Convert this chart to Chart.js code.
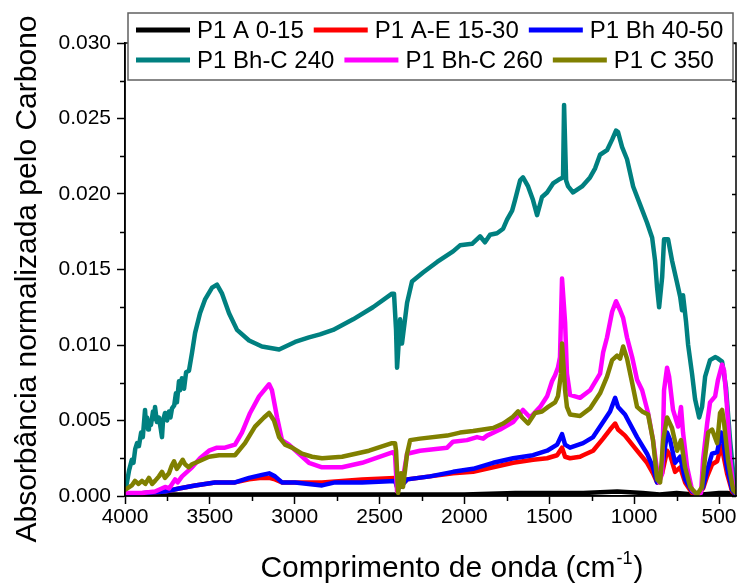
<!DOCTYPE html>
<html>
<head>
<meta charset="utf-8">
<script src="https://cdn.jsdelivr.net/npm/chart.js@4/dist/chart.umd.min.js"></script>
<style>
  html, body { margin: 0; padding: 0; background: #fff; }
  #chartBox { width: 739px; height: 584px; }
</style>
</head>
<body>
<div id="chartBox"><canvas id="spectra" width="739" height="584"></canvas></div>
<script>
// Series names and colours (same order as the legend)
const seriesNames = ['P1 A 0-15', 'P1 A-E 15-30', 'P1 Bh 40-50', 'P1 Bh-C 240', 'P1 Bh-C 260', 'P1 C 350'];
const seriesColors = ['#000000', '#ff0000', '#0000ff', '#008080', '#ff00ff', '#808000'];

// Axis ticks
const xTicks = [4000, 3500, 3000, 2500, 2000, 1500, 1000, 500];
const xMinorTicks = [3750, 3250, 2750, 2250, 1750, 1250, 750];
const yTicks = [0, 0.005, 0.010, 0.015, 0.020, 0.025, 0.030];
const yMinorTicks = [0.0025, 0.0075, 0.0125, 0.0175, 0.0225, 0.0275];

// Spectra: [wavenumber cm-1, absorbance]
const p1A = [
  [4000, 0.0001], [3500, 0.0001], [3000, 0.0001], [2500, 0.0001], [2000, 0.0001],
  [1700, 0.0002], [1420, 0.0002], [1300, 0.0002], [1100, 0.0003], [950, 0.0002],
  [850, 0.0001], [750, 0.0002], [650, 0.0001], [600, 0.0001], [500, 0.0002],
  [450, 0.0002], [400, 0.0001]
];

const p1AE = [
  [4000, 0.0001], [3764, 0.0003], [3682, 0.0005], [3587, 0.0007], [3470, 0.0009],
  [3352, 0.0009], [3269, 0.0011], [3193, 0.0012], [3151, 0.0012], [3116, 0.0011],
  [3075, 0.0009], [2998, 0.0009], [2839, 0.0009], [2603, 0.0011], [2409, 0.0012],
  [2397, 0.0006], [2379, 0.0006], [2338, 0.0011], [2203, 0.0013], [2067, 0.0015],
  [1949, 0.0016], [1831, 0.0019], [1713, 0.0022], [1596, 0.0024], [1513, 0.0025],
  [1454, 0.0027], [1425, 0.0032], [1407, 0.0026], [1378, 0.0025], [1319, 0.0026],
  [1301, 0.0027], [1242, 0.0030], [1183, 0.0038], [1142, 0.0044], [1112, 0.0048],
  [1095, 0.0044], [1054, 0.0040], [983, 0.0030], [924, 0.0022], [889, 0.0015],
  [865, 0.0009], [835, 0.0015], [806, 0.0030], [788, 0.0027], [759, 0.0016],
  [729, 0.0019], [700, 0.0009], [659, 0.0002], [623, 0.0001], [594, 0.0005],
  [570, 0.0013], [541, 0.0021], [511, 0.0023], [488, 0.0033], [476, 0.0028],
  [453, 0.0015], [423, 0.0003], [400, 0.0001]
];

const p1Bh = [
  [4000, 0.0001], [3764, 0.0003], [3682, 0.0005], [3587, 0.0007], [3470, 0.0009],
  [3352, 0.0009], [3269, 0.0012], [3193, 0.0014], [3151, 0.0015], [3116, 0.0013],
  [3075, 0.0009], [2998, 0.0009], [2839, 0.0007], [2763, 0.0009], [2603, 0.0009],
  [2409, 0.0010], [2397, 0.0006], [2379, 0.0006], [2338, 0.0011], [2203, 0.0013],
  [2067, 0.0016], [1949, 0.0018], [1831, 0.0022], [1713, 0.0025], [1596, 0.0027],
  [1513, 0.0030], [1454, 0.0034], [1425, 0.0041], [1407, 0.0034], [1378, 0.0032],
  [1301, 0.0035], [1242, 0.0039], [1183, 0.0049], [1142, 0.0056], [1112, 0.0065],
  [1095, 0.0059], [1054, 0.0054], [983, 0.0039], [924, 0.0028], [889, 0.0019],
  [865, 0.0009], [835, 0.0019], [806, 0.0042], [788, 0.0037], [759, 0.0022],
  [729, 0.0026], [700, 0.0011], [659, 0.0003], [623, 0.0001], [594, 0.0006],
  [570, 0.0017], [541, 0.0028], [511, 0.0029], [488, 0.0042], [476, 0.0037],
  [453, 0.0019], [423, 0.0004], [400, 0.0001]
];

const p1BhC240 = [
  [4000, 0.0003], [3990, 0.0008], [3976, 0.0017], [3960, 0.0024], [3950, 0.0022],
  [3940, 0.0031], [3929, 0.0035], [3918, 0.0033], [3905, 0.0042], [3895, 0.0039],
  [3882, 0.0057], [3876, 0.0047], [3870, 0.0052], [3864, 0.0044], [3859, 0.0050],
  [3847, 0.0047], [3835, 0.0056], [3829, 0.0051], [3823, 0.0059], [3812, 0.0049],
  [3800, 0.0052], [3790, 0.0045], [3782, 0.0039], [3776, 0.0050], [3764, 0.0055],
  [3752, 0.0050], [3741, 0.0056], [3732, 0.0052], [3723, 0.0058], [3710, 0.0060],
  [3700, 0.0068], [3694, 0.0062], [3682, 0.0076], [3676, 0.0070], [3665, 0.0078],
  [3652, 0.0071], [3640, 0.0082], [3623, 0.0083], [3605, 0.0095], [3587, 0.0108],
  [3558, 0.0121], [3529, 0.0130], [3487, 0.0138], [3458, 0.0140], [3428, 0.0134],
  [3387, 0.0121], [3340, 0.0110], [3269, 0.0103], [3193, 0.0099], [3092, 0.0097],
  [2998, 0.0102], [2916, 0.0105], [2851, 0.0107], [2774, 0.0110], [2656, 0.0117],
  [2539, 0.0125], [2427, 0.0134], [2415, 0.0134], [2403, 0.0110], [2397, 0.0085],
  [2391, 0.0095], [2379, 0.0117], [2368, 0.0101], [2338, 0.0128], [2309, 0.0142],
  [2244, 0.0148], [2161, 0.0155], [2067, 0.0162], [2026, 0.0166], [1955, 0.0167],
  [1908, 0.0172], [1879, 0.0168], [1849, 0.0173], [1808, 0.0174], [1772, 0.0177],
  [1749, 0.0183], [1719, 0.0189], [1702, 0.0196], [1672, 0.0209], [1655, 0.0211],
  [1625, 0.0205], [1596, 0.0196], [1572, 0.0186], [1543, 0.0198], [1513, 0.0201],
  [1478, 0.0207], [1437, 0.0210], [1419, 0.0211], [1413, 0.0259], [1401, 0.0209],
  [1389, 0.0205], [1360, 0.0201], [1307, 0.0205], [1260, 0.0211], [1230, 0.0217],
  [1201, 0.0226], [1160, 0.0229], [1130, 0.0236], [1107, 0.0242], [1095, 0.0241],
  [1071, 0.0231], [1042, 0.0223], [1006, 0.0205], [965, 0.0193], [924, 0.0181],
  [894, 0.0171], [877, 0.0156], [865, 0.0138], [853, 0.0125], [835, 0.0145],
  [824, 0.0170], [800, 0.0170], [777, 0.0156], [747, 0.0141], [729, 0.0132],
  [718, 0.0123], [712, 0.0133], [694, 0.0115], [682, 0.0100], [659, 0.0081],
  [641, 0.0064], [617, 0.0052], [600, 0.0059], [582, 0.0079], [553, 0.0090],
  [523, 0.0092], [506, 0.0091], [482, 0.0089], [459, 0.0072], [435, 0.0037],
  [412, 0.0010], [400, 0.0003]
];

const p1BhC260 = [
  [4000, 0.0002], [3900, 0.0002], [3823, 0.0003], [3764, 0.0006], [3740, 0.0005],
  [3705, 0.0011], [3690, 0.0009], [3664, 0.0013], [3605, 0.0019], [3558, 0.0025],
  [3505, 0.0030], [3458, 0.0032], [3411, 0.0032], [3352, 0.0034], [3311, 0.0042],
  [3263, 0.0055], [3210, 0.0066], [3151, 0.0074], [3134, 0.0070], [3104, 0.0052],
  [3075, 0.0037], [3034, 0.0034], [2975, 0.0028], [2916, 0.0022], [2839, 0.0019],
  [2721, 0.0019], [2603, 0.0022], [2497, 0.0026], [2421, 0.0029], [2409, 0.0027],
  [2397, 0.0003], [2385, 0.0012], [2368, 0.0008], [2338, 0.0028], [2262, 0.0030],
  [2102, 0.0032], [2067, 0.0036], [1985, 0.0037], [1926, 0.0039], [1890, 0.0038],
  [1867, 0.0040], [1790, 0.0044], [1713, 0.0049], [1655, 0.0057], [1613, 0.0052],
  [1554, 0.0059], [1513, 0.0066], [1484, 0.0076], [1466, 0.0080], [1449, 0.0085],
  [1437, 0.0092], [1425, 0.0144], [1407, 0.0115], [1396, 0.0081], [1378, 0.0067],
  [1319, 0.0065], [1260, 0.0070], [1201, 0.0081], [1183, 0.0095], [1160, 0.0105],
  [1130, 0.0122], [1107, 0.0129], [1083, 0.0123], [1065, 0.0118], [1042, 0.0105],
  [1012, 0.0092], [983, 0.0077], [953, 0.0070], [918, 0.0055], [889, 0.0037],
  [865, 0.0017], [853, 0.0009], [835, 0.0015], [824, 0.0070], [806, 0.0085],
  [794, 0.0079], [771, 0.0057], [741, 0.0046], [724, 0.0059], [712, 0.0042],
  [688, 0.0019], [659, 0.0004], [629, 0.0001], [606, 0.0002], [594, 0.0024],
  [570, 0.0048], [553, 0.0062], [523, 0.0066], [506, 0.0077], [482, 0.0087],
  [470, 0.0083], [453, 0.0059], [435, 0.0026], [417, 0.0006], [400, 0.0002]
];

const p1C350 = [
  [4000, 0.0004], [3960, 0.0007], [3941, 0.0010], [3920, 0.0008], [3900, 0.0010],
  [3880, 0.0008], [3859, 0.0012], [3840, 0.0008], [3823, 0.0010], [3800, 0.0013],
  [3782, 0.0016], [3765, 0.0012], [3741, 0.0015], [3725, 0.0020], [3711, 0.0023],
  [3695, 0.0018], [3682, 0.0020], [3660, 0.0024], [3646, 0.0021], [3625, 0.0019],
  [3605, 0.0021], [3564, 0.0023], [3505, 0.0026], [3446, 0.0027], [3352, 0.0027],
  [3293, 0.0035], [3234, 0.0046], [3181, 0.0052], [3151, 0.0055], [3122, 0.0050],
  [3092, 0.0039], [3057, 0.0034], [3016, 0.0032], [2957, 0.0028], [2898, 0.0026],
  [2839, 0.0025], [2721, 0.0026], [2562, 0.0030], [2427, 0.0035], [2409, 0.0035],
  [2403, 0.0030], [2391, 0.0002], [2374, 0.0015], [2362, 0.0006], [2338, 0.0028],
  [2320, 0.0037], [2262, 0.0038], [2102, 0.0040], [2026, 0.0042], [1949, 0.0043],
  [1890, 0.0044], [1831, 0.0045], [1772, 0.0048], [1719, 0.0052], [1684, 0.0056],
  [1660, 0.0052], [1625, 0.0048], [1584, 0.0055], [1543, 0.0056], [1507, 0.0059],
  [1466, 0.0062], [1449, 0.0066], [1431, 0.0081], [1425, 0.0101], [1407, 0.0070],
  [1396, 0.0059], [1378, 0.0054], [1319, 0.0053], [1260, 0.0058], [1201, 0.0068],
  [1160, 0.0079], [1130, 0.0090], [1101, 0.0093], [1083, 0.0091], [1065, 0.0099],
  [1042, 0.0091], [1012, 0.0075], [983, 0.0059], [953, 0.0056], [918, 0.0054],
  [889, 0.0037], [865, 0.0011], [847, 0.0009], [829, 0.0037], [806, 0.0052],
  [777, 0.0045], [747, 0.0030], [724, 0.0037], [700, 0.0019], [670, 0.0006],
  [629, 0.0001], [600, 0.0006], [582, 0.0026], [564, 0.0042], [541, 0.0044],
  [511, 0.0035], [494, 0.0055], [482, 0.0057], [470, 0.0048], [447, 0.0024],
  [417, 0.0004], [400, 0.0002]
];

const seriesData = [p1A, p1AE, p1Bh, p1BhC240, p1BhC260, p1C350];

const FONT = "'Liberation Sans', Arial, sans-serif";

// Frame, minor ticks, axis titles and the boxed legend
const decorations = {
  id: 'decorations',
  afterDraw(chart) {
    const ctx = chart.ctx;
    const area = chart.chartArea;
    const xs = chart.scales.x;
    const ys = chart.scales.y;

    ctx.save();
    ctx.strokeStyle = '#000';
    ctx.lineWidth = 1.5;

    // minor ticks (outside on bottom / left)
    ctx.beginPath();
    xMinorTicks.forEach(v => {
      const px = Math.round(xs.getPixelForValue(v)) + 0.5;
      ctx.moveTo(px, area.bottom);
      ctx.lineTo(px, area.bottom + 5);
    });
    yMinorTicks.forEach(v => {
      const py = Math.round(ys.getPixelForValue(v)) + 0.5;
      ctx.moveTo(area.left, py);
      ctx.lineTo(area.left - 5, py);
    });
    // small inward ticks on the right axis
    yTicks.concat(yMinorTicks).forEach(v => {
      const py = Math.round(ys.getPixelForValue(v)) + 0.5;
      ctx.moveTo(area.right, py);
      ctx.lineTo(area.right - 4, py);
    });
    ctx.stroke();

    // frame
    ctx.strokeRect(area.left, area.top, area.right - area.left, area.bottom - area.top);

    // y title
    ctx.fillStyle = '#000';
    ctx.font = '30px ' + FONT;
    ctx.save();
    ctx.translate(36, 279);
    ctx.rotate(-Math.PI / 2);
    ctx.textAlign = 'center';
    ctx.textBaseline = 'alphabetic';
    ctx.fillText('Absorbância normalizada pelo Carbono', 0, 0);
    ctx.restore();

    // x title with superscript
    const mainPart = 'Comprimento de onda (cm';
    const supPart = '-1';
    const endPart = ')';
    ctx.textAlign = 'left';
    ctx.textBaseline = 'alphabetic';
    ctx.font = '30px ' + FONT;
    const wMain = ctx.measureText(mainPart).width;
    const wEnd = ctx.measureText(endPart).width;
    ctx.font = '18px ' + FONT;
    const wSup = ctx.measureText(supPart).width;
    let tx = 451 - (wMain + wSup + wEnd) / 2;
    const baseY = 577;
    ctx.font = '30px ' + FONT;
    ctx.fillText(mainPart, tx, baseY);
    tx += wMain;
    ctx.font = '18px ' + FONT;
    ctx.fillText(supPart, tx + 1, baseY - 13);
    tx += wSup + 2;
    ctx.font = '30px ' + FONT;
    ctx.fillText(endPart, tx, baseY);

    // legend box
    const boxL = 128, boxT = 13, boxR = 733, boxB = 80;
    ctx.fillStyle = '#fff';
    ctx.fillRect(boxL, boxT, boxR - boxL, boxB - boxT);
    ctx.strokeStyle = '#606060';
    ctx.lineWidth = 1.5;
    ctx.strokeRect(boxL, boxT, boxR - boxL, boxB - boxT);

    ctx.font = '24px ' + FONT;
    ctx.textBaseline = 'middle';
    const rowY = [30, 60];
    for (let row = 0; row < 2; row++) {
      let x = 136;
      for (let col = 0; col < 3; col++) {
        const i = row * 3 + col;
        ctx.strokeStyle = seriesColors[i];
        ctx.lineWidth = 5;
        ctx.beginPath();
        ctx.moveTo(x, rowY[row]);
        ctx.lineTo(x + 54, rowY[row]);
        ctx.stroke();
        x += 61;
        ctx.fillStyle = '#000';
        ctx.fillText(seriesNames[i], x, rowY[row] + 1);
        x += ctx.measureText(seriesNames[i]).width + 10;
      }
    }
    ctx.restore();
  }
};

const datasets = seriesData.map((pts, i) => ({
  label: seriesNames[i],
  data: pts.map(p => ({ x: p[0], y: p[1] })),
  borderColor: seriesColors[i],
  backgroundColor: seriesColors[i],
  borderWidth: 4.5,
  pointRadius: 0,
  tension: 0,
  borderJoinStyle: 'round',
  borderCapStyle: 'round',
  order: seriesData.length - 1 - i
}));

new Chart(document.getElementById('spectra'), {
  type: 'line',
  data: { datasets: datasets },
  options: {
    responsive: false,
    animation: false,
    devicePixelRatio: 1,
    layout: { padding: { top: 43, right: 3, left: 0, bottom: 0 } },
    plugins: {
      legend: { display: false },
      tooltip: { enabled: false }
    },
    scales: {
      x: {
        type: 'linear',
        min: 400,
        max: 4000,
        reverse: true,
        afterBuildTicks: s => { s.ticks = xTicks.map(v => ({ value: v })); },
        afterFit: s => { s.height = 88; },
        ticks: {
          color: '#000',
          font: { size: 21, family: FONT },
          padding: 1,
          maxRotation: 0,
          autoSkip: false,
          callback: v => String(v)
        },
        grid: { drawOnChartArea: false, tickLength: 8, tickWidth: 1.5, tickColor: '#000' },
        border: { color: '#000', width: 1.5 },
        title: { display: false }
      },
      y: {
        min: 0,
        max: 0.03,
        afterBuildTicks: s => { s.ticks = yTicks.map(v => ({ value: v })); },
        afterFit: s => { s.width = 125; },
        ticks: {
          color: '#000',
          font: { size: 21, family: FONT },
          padding: 6,
          callback: v => v.toFixed(3)
        },
        grid: { drawOnChartArea: false, tickLength: 8, tickWidth: 1.5, tickColor: '#000' },
        border: { color: '#000', width: 1.5 },
        title: { display: false }
      }
    }
  },
  plugins: [decorations]
});
</script>
</body>
</html>
